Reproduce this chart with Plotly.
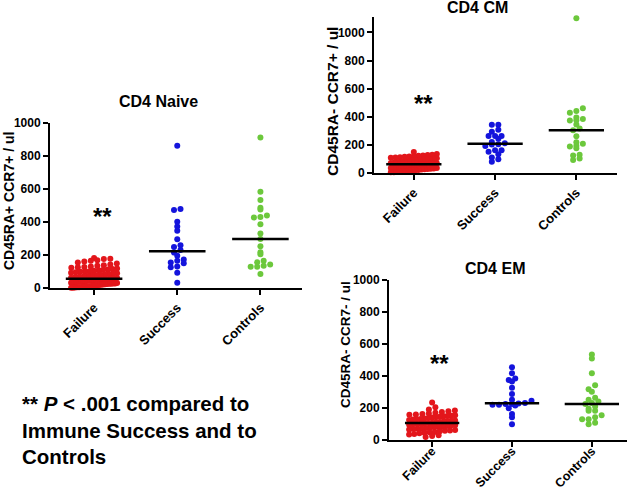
import numpy as np
import plotly.graph_objects as go

categories = ["Failure", "Success", "Controls"]
colors = ["#e3161b", "#1414dc", "#6cc83c"]

# CD4 Naive (CD45RA+ CCR7+ / ul)
naive_failure = [182, 178, 175, 168, 165, 160, 155,
                 148, 142, 138, 135, 130, 128, 125, 122,
                 118, 115, 112, 110, 108, 105, 102, 100, 98, 95, 92, 90,
                 88, 85, 82, 80, 78, 75, 72, 70, 68, 65, 62, 60,
                 58, 57, 56, 55, 54, 53, 52, 50, 49, 48, 46, 45, 44, 42, 41, 40, 38, 36, 35, 33, 32, 30,
                 28, 27, 26, 25, 24, 22, 21, 20, 18, 16, 15, 14, 12, 11, 10, 9, 8, 6, 5, 4, 3, 2, 1]
naive_success = [862, 479, 473, 402, 372, 347, 295, 259, 248, 230, 215, 195, 172, 165, 155, 150, 130, 125, 93, 32]
naive_controls = [912, 584, 533, 487, 475, 440, 430, 427, 386, 331, 297, 253, 216, 204, 165, 156, 143, 135, 129, 129, 85]

# CD4 CM (CD45RA- CCR7+ / ul)
cm_failure = [150, 135, 130, 128, 125, 122, 120,
              118, 115, 112, 110, 108, 105, 102, 100,
              98, 95, 92, 90, 88, 85, 82, 80, 78, 75, 72, 70,
              68, 66, 65, 63, 62, 60, 58, 56, 55, 52, 50, 48, 46, 45, 42, 40,
              38, 36, 35, 32, 30, 28, 26, 25, 22, 20, 18, 16, 15, 12, 10,
              8, 6, 5]
cm_success = [343, 343, 307, 293, 264, 264, 264, 243, 220, 211, 205, 202, 192, 161, 161, 151, 133, 111, 97, 80]
cm_controls = [1101, 461, 442, 428, 395, 385, 376, 374, 345, 316, 305, 262, 218, 208, 194, 189, 176, 130, 125, 104, 92]

# CD4 EM (CD45RA- CCR7- / ul)
em_failure = [235, 205, 190, 185, 180, 175,
              170, 165, 162, 160, 158, 155, 152, 150,
              148, 145, 142, 140, 138, 135, 132, 130, 128, 125, 122, 120,
              118, 115, 112, 110, 108, 106, 105, 102, 100, 98, 95, 92, 90,
              88, 85, 82, 80, 78, 75, 72, 70, 68, 65, 62, 60,
              58, 55, 50, 48, 45, 42, 38, 35, 30,
              25, 18]
em_success = [454, 417, 385, 375, 365, 327, 287, 252, 246, 232, 228, 225, 225, 220, 220, 215, 198, 162, 142, 98]
em_controls = [535, 510, 417, 342, 317, 302, 264, 252, 240, 231, 225, 210, 196, 183, 183, 154, 142, 129, 129, 108, 98]

W, H = 640, 492
FONT = "Liberation Sans, Arial, sans-serif"

panels = [
    dict(name="CD4 Naive", ytitle="CD45RA+ CCR7+ / ul", data=[naive_failure, naive_success, naive_controls],
         px=(50, 302), py=(288, 123), yr=(0, 1000), xr=(-0.53, 2.5),
         title_pos=(158, 102), ytitle_pos=(9, 201), ytitle_size=14, star=(0.1, 435), standoff=0, xfs=13),
    dict(name="CD4 CM", ytitle="CD45RA- CCR7+ / ul", data=[cm_failure, cm_success, cm_controls],
         px=(374, 617), py=(173, 17), yr=(0, 1110), xr=(-0.49, 2.5),
         title_pos=(477, 8), ytitle_pos=(333, 102), ytitle_size=15.5, star=(0.12, 496), standoff=0, xfs=13),
    dict(name="CD4 EM", ytitle="CD45RA- CCR7- / ul", data=[em_failure, em_success, em_controls],
         px=(389, 627), py=(440, 280), yr=(0, 1000), xr=(-0.54, 2.44),
         title_pos=(495, 268), ytitle_pos=(345, 345), ytitle_size=13.5, star=(0.09, 481), standoff=-8, xfs=12.5),
]


def swarm(values, ppu, ppc, dot=5.0, spacing=6.5, maxw=46.0):
    vals = np.asarray(values, float)
    bins = np.floor(vals * ppu / dot).astype(int)
    off = np.zeros(len(vals))
    for b in np.unique(bins):
        idx = np.where(bins == b)[0]
        idx = idx[np.argsort(vals[idx], kind="stable")]
        n = len(idx)
        if n < 2:
            continue
        sp = min(spacing, maxw / (n - 1))
        off[idx] = (np.arange(n) - (n - 1) / 2) * sp
    return off / ppc


fig = go.Figure()
annotations = []
for k, p in enumerate(panels):
    ax = "" if k == 0 else str(k + 1)
    xd = [p["px"][0] / W, p["px"][1] / W]
    yd = [1 - p["py"][0] / H, 1 - p["py"][1] / H]
    ppu = (p["py"][0] - p["py"][1]) / (p["yr"][1] - p["yr"][0])
    ppc = (p["px"][1] - p["px"][0]) / (p["xr"][1] - p["xr"][0])
    for i, vals in enumerate(p["data"]):
        off = swarm(vals, ppu, ppc)
        fig.add_trace(go.Scatter(
            x=i + off, y=vals, mode="markers", xaxis="x" + ax, yaxis="y" + ax,
            marker=dict(size=6, color=colors[i], line=dict(width=0)),
            showlegend=False, hoverinfo="y", cliponaxis=False))
        med = float(np.median(vals))
        fig.add_trace(go.Scatter(
            x=[i - 0.34, i + 0.34], y=[med, med], mode="lines", xaxis="x" + ax, yaxis="y" + ax,
            line=dict(color="black", width=2.5), showlegend=False, hoverinfo="skip"))
    fig.layout["xaxis" + ax] = dict(
        domain=xd, range=list(p["xr"]), anchor="y" + ax, tickmode="array",
        tickvals=[0, 1, 2], ticktext=categories, tickangle=-45, showline=True, linecolor="black",
        linewidth=2, ticks="outside", ticklen=5, tickwidth=2, tickcolor="black", automargin=False,
        ticklabelstandoff=p["standoff"],
        showgrid=False, zeroline=False, tickfont=dict(family=FONT, size=p["xfs"], color="black", weight="bold"),
        fixedrange=True)
    fig.layout["yaxis" + ax] = dict(
        domain=yd, range=list(p["yr"]), anchor="x" + ax, tickmode="array", automargin=False,
        tickvals=[0, 200, 400, 600, 800, 1000], showline=True, linecolor="black", linewidth=2,
        ticks="outside", ticklen=5, tickwidth=2, tickcolor="black", showgrid=False, zeroline=False,
        tickfont=dict(family=FONT, size=12, color="black", weight="bold"), fixedrange=True)
    annotations.append(dict(
        text="<b>" + p["name"] + "</b>", x=p["title_pos"][0] / W, y=1 - p["title_pos"][1] / H,
        xref="paper", yref="paper", xanchor="center", yanchor="middle", showarrow=False,
        font=dict(family=FONT, size=16, color="black")))
    annotations.append(dict(
        text="<b>" + p["ytitle"] + "</b>", x=p["ytitle_pos"][0] / W, y=1 - p["ytitle_pos"][1] / H,
        xref="paper", yref="paper", xanchor="center", yanchor="middle", textangle=-90, showarrow=False,
        font=dict(family=FONT, size=p["ytitle_size"], color="black")))
    annotations.append(dict(
        text="<b>**</b>", x=p["star"][0], y=p["star"][1], xref="x" + ax, yref="y" + ax,
        xanchor="center", yanchor="middle", showarrow=False,
        font=dict(family=FONT, size=24, color="black")))

annotations.append(dict(
    text="<b>** <i>P</i> &lt; .001 compared to<br>Immune Success and to<br>Controls</b>",
    x=20 / W, y=1 - 430 / H, xref="paper", yref="paper", xanchor="left", yanchor="middle",
    align="left", showarrow=False, font=dict(family=FONT, size=20.5, color="black")))

fig.update_layout(
    width=W, height=H, margin=dict(l=0, r=0, t=0, b=0, pad=0, autoexpand=False),
    paper_bgcolor="white", plot_bgcolor="white", annotations=annotations,
    font=dict(family=FONT, color="black"))

fig.write_html("out.html", config={"displayModeBar": False},
               post_script="document.body.style.margin='0';document.body.style.padding='0';"
                           "document.body.style.overflow='hidden';")
